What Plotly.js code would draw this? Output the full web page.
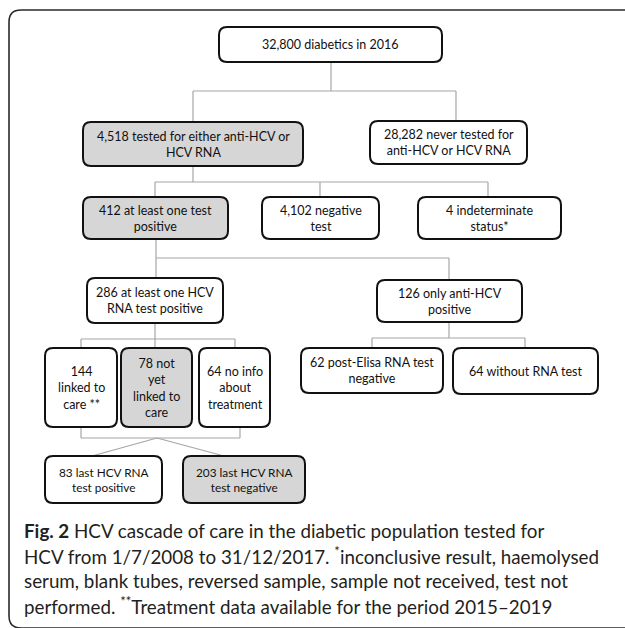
<!DOCTYPE html>
<html>
<head>
<meta charset="utf-8">
<script src="https://cdn.plot.ly/plotly-3.0.1.min.js"></script>
<style>html,body{margin:0;padding:0;background:#fff;}#chart{width:625px;height:628px;}</style>
</head>
<body>
<div id="chart"></div>
<script>
// ---- content (texts and counts) ----
var counts = ["32,800", "4,518", "28,282", "412", "4,102", "4", "286", "126", "144", "78", "64", "62", "64", "83", "203"];
var labels = [
  " diabetics in 2016",
  " tested for either anti-HCV or<br>HCV RNA",
  " never tested for<br>anti-HCV or HCV RNA",
  " at least one test<br>positive",
  " negative<br>test",
  " indeterminate<br>status*",
  " at least one HCV<br>RNA test positive",
  " only anti-HCV<br>positive",
  "<br>linked to<br>care **",
  " not<br>yet<br>linked to<br>care",
  " no info<br>about<br>treatment",
  " post-Elisa RNA test<br>negative",
  " without RNA test",
  " last HCV RNA<br>test positive",
  " last HCV RNA<br>test negative"
];
var highlighted = [false, true, false, true, false, false, false, false, false, true, false, false, false, false, true];
var captionLines = [
  "<b>Fig. 2</b> HCV cascade of care in the diabetic population tested for",
  "HCV from 1/7/2008 to 31/12/2017. <sup>*</sup>inconclusive result, haemolysed",
  "serum, blank tubes, reversed sample, sample not received, test not",
  "performed. <sup>**</sup>Treatment data available for the period 2015–2019"
];

// ---- layout geometry (pixels, y downward) ----
var boxX0 = [219, 83, 370, 83, 262, 418, 87, 377, 45, 121, 199, 301, 453, 45, 183];
var boxX1 = [442, 303, 527, 228, 379, 561, 223, 522, 117, 192, 270, 443, 598, 162, 305];
var boxY0 = [27, 122, 121, 197, 197, 197, 278, 280, 348, 348, 348, 348, 348, 456, 456];
var boxY1 = [62, 166, 164, 239, 239, 239, 323, 322, 427, 427, 427, 393, 394, 503, 503];
var boxFont = [12.5, 12.5, 12.5, 12.5, 12.5, 12.5, 12.5, 12.5, 12.5, 12.5, 12.5, 12.5, 12.5, 11.8, 11.8];
// connector segments: [x0,y0,x1,y1]
var links = [
  [331,62,331,91],[193,91,456,91],[193,91,193,122],[456,91,456,121],
  [193,166,193,182],[155,182,488,182],[155,182,155,197],[320,182,320,197],[488,182,488,197],
  [156,239,156,278],[156,258,449,258],[449,258,449,280],
  [155,323,155,348],[81,339,235,339],[81,339,81,348],[235,339,235,348],
  [449,322,449,338],[372,338,525,338],[372,338,372,348],[525,338,525,348],
  [81,427,81,438],[240,427,240,438],[81,438,240,438],
  [157,438,92,456],[157,438,224,456]
];
var captionY = [530, 555, 580, 605];

function rr(x0, y0, x1, y1, r) {
  return 'M' + (x0 + r) + ',' + y0 + ' L' + (x1 - r) + ',' + y0 + ' Q' + x1 + ',' + y0 + ' ' + x1 + ',' + (y0 + r) +
    ' L' + x1 + ',' + (y1 - r) + ' Q' + x1 + ',' + y1 + ' ' + (x1 - r) + ',' + y1 +
    ' L' + (x0 + r) + ',' + y1 + ' Q' + x0 + ',' + y1 + ' ' + x0 + ',' + (y1 - r) +
    ' L' + x0 + ',' + (y0 + r) + ' Q' + x0 + ',' + y0 + ' ' + (x0 + r) + ',' + y0 + ' Z';
}

var shapes = [];
// outer frame
shapes.push({type: 'path', xref: 'x', yref: 'y', path: rr(9, 10, 650, 628, 12), line: {color: '#2a2a2a', width: 1.6}, fillcolor: 'rgba(0,0,0,0)'});
links.forEach(function (s) {
  shapes.push({type: 'line', xref: 'x', yref: 'y', x0: s[0], y0: s[1], x1: s[2], y1: s[3], line: {color: '#a6a6a6', width: 1.2}});
});
var annotations = [];
for (var i = 0; i < counts.length; i++) {
  shapes.push({type: 'path', xref: 'x', yref: 'y', path: rr(boxX0[i], boxY0[i], boxX1[i], boxY1[i], 8),
    line: {color: '#111111', width: 2}, fillcolor: highlighted[i] ? '#d6d6d6' : '#ffffff'});
  annotations.push({xref: 'x', yref: 'y', x: (boxX0[i] + boxX1[i]) / 2, y: (boxY0[i] + boxY1[i]) / 2,
    text: counts[i] + labels[i], showarrow: false, xanchor: 'center', yanchor: 'middle', align: 'center',
    font: {family: 'Lato, sans-serif', size: boxFont[i], color: '#111111'}});
}
captionLines.forEach(function (t, k) {
  annotations.push({xref: 'x', yref: 'y', x: 22, y: captionY[k], text: t, showarrow: false,
    xanchor: 'left', yanchor: 'middle', align: 'left',
    font: {family: 'Lato, sans-serif', size: 18.8, color: '#231f20'}});
});

var layout = {
  width: 625, height: 628,
  margin: {l: 0, r: 0, t: 0, b: 0},
  paper_bgcolor: '#ffffff', plot_bgcolor: '#ffffff',
  xaxis: {range: [0, 625], visible: false, fixedrange: true},
  yaxis: {range: [628, 0], visible: false, fixedrange: true},
  showlegend: false,
  shapes: shapes,
  annotations: annotations
};
Plotly.newPlot('chart', [], layout, {staticPlot: true, displayModeBar: false});
</script>
</body>
</html>
